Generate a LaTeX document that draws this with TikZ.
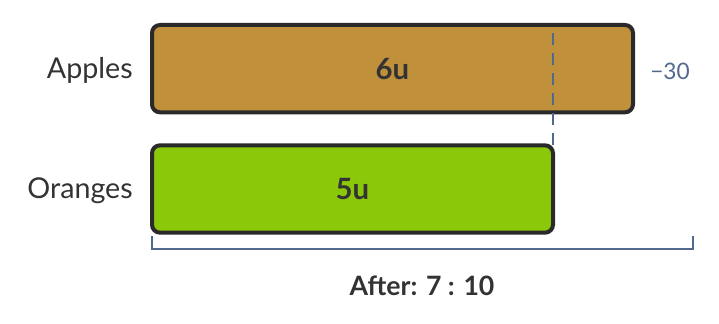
\documentclass[tikz,border=0pt]{standalone}
\usepackage{fontspec}
\setmainfont{Lato}
\usetikzlibrary{positioning}
\definecolor{applefill}{HTML}{C0903A}
\definecolor{orangefill}{HTML}{8BC80A}
\definecolor{barline}{HTML}{2A2A2A}
\definecolor{slate}{HTML}{51698C}
\definecolor{labeltext}{HTML}{333333}
\tikzset{
  bar/.style={draw=barline, line width=3pt, rounded corners=6pt, inner sep=0pt,
    outer sep=0pt, minimum height=65.5pt, font=\fontsize{22}{26}\selectfont\bfseries,
    text=labeltext},
  rowlabel/.style={font=\fontsize{21.5}{26}\selectfont, text=labeltext, inner sep=0pt,
    yshift=-1.5pt},
}
\begin{document}
\begin{tikzpicture}[x=0.75pt, y=-0.75pt]
    \useasboundingbox (0,0) rectangle (719,324);
    % 苹果
    \node[bar, fill=applefill, minimum width=360.75pt, anchor=north west] (apples) at (152,25) {6u};
    \node[rowlabel, left=14.25pt of apples] (applesname) {Apples};
    \node[right=12.75pt of apples, inner sep=0pt, yshift=-2pt, font=\fontsize{17}{20}\selectfont, text=slate] (minus) {−30};
    % 橙子
    \node[bar, fill=orangefill, minimum width=300.75pt, below right=24.75pt and 0pt of apples.south west] (oranges) {5u};
    \node[rowlabel, left=14.25pt of oranges] (orangesname) {Oranges};
    % 虚线
    \coordinate (cut) at ([yshift=-3.75pt]apples.north -| oranges.north east);
    \draw[slate, line width=2.2pt, dash pattern=on 9pt off 6pt] (oranges.north east) -- (cut);
    % 括号
    \coordinate (brl) at (152,236);
    \coordinate (brr) at (693,236);
    \draw[slate, line width=2pt] (brl) -- ++(0,13) -| (brr);
    % 说明
    \node[font=\fontsize{20}{24}\selectfont\bfseries, text=labeltext] (after) at (422,286) {After: 7 : 10};
\end{tikzpicture}
\end{document}
